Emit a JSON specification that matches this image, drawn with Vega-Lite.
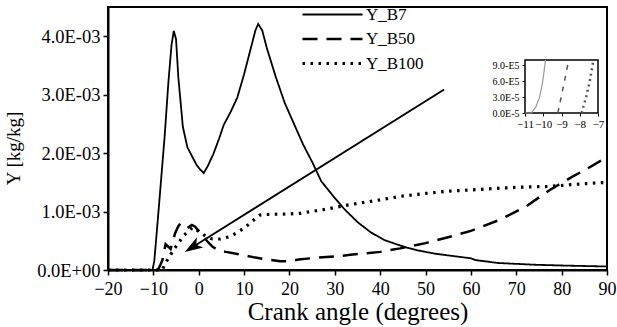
{
  "$schema": "https://vega.github.io/schema/vega-lite/v6.json",
  "width": 499,
  "height": 263,
  "autosize": "none",
  "padding": {"left": 108, "top": 7, "right": 10, "bottom": 57},
  "background": "white",
  "config": {
    "font": "Liberation Serif, Times New Roman, serif",
    "view": {"stroke": "black", "strokeWidth": 2},
    "axis": {"grid": false, "domainColor": "black", "domainWidth": 2, "tickColor": "black", "labelColor": "black", "titleColor": "black", "labelFont": "Liberation Serif, Times New Roman, serif", "titleFont": "Liberation Serif, Times New Roman, serif", "titleFontWeight": "normal"},
    "legend": {"labelFont": "Liberation Serif, Times New Roman, serif"}
  },
  "datasets": {
    "main": [
      {"angle": -20, "Y": 0, "s": "Y_B7"}, {"angle": -15, "Y": 0, "s": "Y_B7"}, {"angle": -11, "Y": 0, "s": "Y_B7"}, {"angle": -10.2, "Y": 0.0, "s": "Y_B7"},
      {"angle": -9.8, "Y": 0.00015, "s": "Y_B7"}, {"angle": -9.3, "Y": 0.0006, "s": "Y_B7"}, {"angle": -8.5, "Y": 0.00135, "s": "Y_B7"}, {"angle": -7.5, "Y": 0.0023, "s": "Y_B7"},
      {"angle": -6.7, "Y": 0.0032, "s": "Y_B7"}, {"angle": -6.0, "Y": 0.00385, "s": "Y_B7"}, {"angle": -5.5, "Y": 0.00409, "s": "Y_B7"}, {"angle": -5.0, "Y": 0.00395, "s": "Y_B7"},
      {"angle": -4.5, "Y": 0.0033, "s": "Y_B7"}, {"angle": -3.5, "Y": 0.00245, "s": "Y_B7"}, {"angle": -2.5, "Y": 0.0021, "s": "Y_B7"}, {"angle": -1.5, "Y": 0.00195, "s": "Y_B7"},
      {"angle": -0.5, "Y": 0.0018, "s": "Y_B7"}, {"angle": 0.3, "Y": 0.00172, "s": "Y_B7"}, {"angle": 1.1, "Y": 0.00166, "s": "Y_B7"}, {"angle": 2, "Y": 0.00178, "s": "Y_B7"},
      {"angle": 3.2, "Y": 0.00198, "s": "Y_B7"}, {"angle": 4.5, "Y": 0.00225, "s": "Y_B7"}, {"angle": 5.5, "Y": 0.00248, "s": "Y_B7"}, {"angle": 7, "Y": 0.0027, "s": "Y_B7"},
      {"angle": 8.5, "Y": 0.00295, "s": "Y_B7"}, {"angle": 10, "Y": 0.00335, "s": "Y_B7"}, {"angle": 11.5, "Y": 0.0038, "s": "Y_B7"}, {"angle": 12.5, "Y": 0.0041, "s": "Y_B7"},
      {"angle": 13.1, "Y": 0.00421, "s": "Y_B7"}, {"angle": 14, "Y": 0.0041, "s": "Y_B7"}, {"angle": 15, "Y": 0.0038, "s": "Y_B7"}, {"angle": 17, "Y": 0.0033, "s": "Y_B7"},
      {"angle": 19, "Y": 0.00285, "s": "Y_B7"}, {"angle": 21, "Y": 0.0025, "s": "Y_B7"}, {"angle": 23, "Y": 0.00215, "s": "Y_B7"}, {"angle": 25, "Y": 0.00185, "s": "Y_B7"},
      {"angle": 27, "Y": 0.00152, "s": "Y_B7"}, {"angle": 29.7, "Y": 0.00126, "s": "Y_B7"}, {"angle": 32, "Y": 0.00105, "s": "Y_B7"}, {"angle": 35, "Y": 0.00082, "s": "Y_B7"},
      {"angle": 38, "Y": 0.00064, "s": "Y_B7"}, {"angle": 41, "Y": 0.00051, "s": "Y_B7"}, {"angle": 44, "Y": 0.00043, "s": "Y_B7"}, {"angle": 46, "Y": 0.00038, "s": "Y_B7"},
      {"angle": 48, "Y": 0.00034, "s": "Y_B7"}, {"angle": 52, "Y": 0.00028, "s": "Y_B7"}, {"angle": 56, "Y": 0.00024, "s": "Y_B7"}, {"angle": 60, "Y": 0.0002, "s": "Y_B7"},
      {"angle": 61, "Y": 0.00017, "s": "Y_B7"}, {"angle": 66, "Y": 0.00012, "s": "Y_B7"}, {"angle": 74, "Y": 0.00009, "s": "Y_B7"}, {"angle": 81, "Y": 0.000075, "s": "Y_B7"},
      {"angle": 90, "Y": 0.00006, "s": "Y_B7"},

      {"angle": -20, "Y": 0, "s": "Y_B50"}, {"angle": -9, "Y": 0, "s": "Y_B50"}, {"angle": -8.5, "Y": 0.00008, "s": "Y_B50"}, {"angle": -8, "Y": 0.00017, "s": "Y_B50"},
      {"angle": -7.3, "Y": 0.00044, "s": "Y_B50"}, {"angle": -6.2, "Y": 0.00036, "s": "Y_B50"}, {"angle": -5.2, "Y": 0.00063, "s": "Y_B50"}, {"angle": -4.5, "Y": 0.00075, "s": "Y_B50"},
      {"angle": -4, "Y": 0.0008, "s": "Y_B50"}, {"angle": -3.3, "Y": 0.00076, "s": "Y_B50"}, {"angle": -2.5, "Y": 0.00072, "s": "Y_B50"}, {"angle": -1.5, "Y": 0.00077, "s": "Y_B50"},
      {"angle": -0.8, "Y": 0.00074, "s": "Y_B50"}, {"angle": 0, "Y": 0.00067, "s": "Y_B50"}, {"angle": 1, "Y": 0.00058, "s": "Y_B50"}, {"angle": 2, "Y": 0.00048, "s": "Y_B50"},
      {"angle": 3, "Y": 0.0004, "s": "Y_B50"}, {"angle": 4.3, "Y": 0.00034, "s": "Y_B50"}, {"angle": 6, "Y": 0.00031, "s": "Y_B50"}, {"angle": 9.5, "Y": 0.00026, "s": "Y_B50"},
      {"angle": 12, "Y": 0.00022, "s": "Y_B50"}, {"angle": 15, "Y": 0.00018, "s": "Y_B50"}, {"angle": 18, "Y": 0.00015, "s": "Y_B50"}, {"angle": 20, "Y": 0.00015, "s": "Y_B50"},
      {"angle": 22, "Y": 0.00018, "s": "Y_B50"}, {"angle": 26, "Y": 0.00021, "s": "Y_B50"}, {"angle": 30, "Y": 0.00023, "s": "Y_B50"}, {"angle": 33.4, "Y": 0.00026, "s": "Y_B50"},
      {"angle": 40, "Y": 0.00031, "s": "Y_B50"}, {"angle": 44.4, "Y": 0.00037, "s": "Y_B50"}, {"angle": 50, "Y": 0.00046, "s": "Y_B50"}, {"angle": 55.4, "Y": 0.00057, "s": "Y_B50"},
      {"angle": 60, "Y": 0.00067, "s": "Y_B50"}, {"angle": 66.4, "Y": 0.00086, "s": "Y_B50"}, {"angle": 72, "Y": 0.00108, "s": "Y_B50"}, {"angle": 77.4, "Y": 0.00137, "s": "Y_B50"},
      {"angle": 82, "Y": 0.00158, "s": "Y_B50"}, {"angle": 86, "Y": 0.00175, "s": "Y_B50"}, {"angle": 90, "Y": 0.00193, "s": "Y_B50"},

      {"angle": -20, "Y": 0, "s": "Y_B100"}, {"angle": -8, "Y": 0, "s": "Y_B100"}, {"angle": -7.5, "Y": 0.0001, "s": "Y_B100"}, {"angle": -6.7, "Y": 0.0002, "s": "Y_B100"},
      {"angle": -5.5, "Y": 0.00035, "s": "Y_B100"}, {"angle": -4.5, "Y": 0.00046, "s": "Y_B100"}, {"angle": -3.2, "Y": 0.0006, "s": "Y_B100"}, {"angle": -1.3, "Y": 0.00073, "s": "Y_B100"},
      {"angle": 0, "Y": 0.00066, "s": "Y_B100"}, {"angle": 1.5, "Y": 0.00058, "s": "Y_B100"}, {"angle": 3, "Y": 0.00053, "s": "Y_B100"}, {"angle": 4.7, "Y": 0.00053, "s": "Y_B100"},
      {"angle": 6.8, "Y": 0.00057, "s": "Y_B100"}, {"angle": 8.5, "Y": 0.00064, "s": "Y_B100"}, {"angle": 10.4, "Y": 0.00074, "s": "Y_B100"}, {"angle": 12.2, "Y": 0.00086, "s": "Y_B100"},
      {"angle": 13.5, "Y": 0.00094, "s": "Y_B100"}, {"angle": 15, "Y": 0.00095, "s": "Y_B100"}, {"angle": 20, "Y": 0.00096, "s": "Y_B100"}, {"angle": 22.3, "Y": 0.00097, "s": "Y_B100"},
      {"angle": 28, "Y": 0.00104, "s": "Y_B100"}, {"angle": 33.4, "Y": 0.00112, "s": "Y_B100"}, {"angle": 40, "Y": 0.0012, "s": "Y_B100"}, {"angle": 44.4, "Y": 0.00126, "s": "Y_B100"},
      {"angle": 50, "Y": 0.00131, "s": "Y_B100"}, {"angle": 55.4, "Y": 0.00135, "s": "Y_B100"}, {"angle": 60, "Y": 0.00137, "s": "Y_B100"}, {"angle": 66.4, "Y": 0.0014, "s": "Y_B100"},
      {"angle": 72, "Y": 0.00142, "s": "Y_B100"}, {"angle": 77.4, "Y": 0.00143, "s": "Y_B100"}, {"angle": 82, "Y": 0.00146, "s": "Y_B100"}, {"angle": 87.7, "Y": 0.00149, "s": "Y_B100"},
      {"angle": 90, "Y": 0.0015, "s": "Y_B100"}
    ],
    "arrow": [
      {"angle": 54.1, "Y": 0.00309}, {"angle": -2.2, "Y": 0.00035}
    ],
    "arrowhead": [
      {"angle": -1.2, "Y": 0.0004}
    ],
    "insetbox": [
      {"x0": -11, "x1": -7, "y0": 0, "y1": 0.0001}
    ],
    "inset": [
      {"angle": -11, "Y": 0, "s": "Y_B7"}, {"angle": -10.65, "Y": 0, "s": "Y_B7"}, {"angle": -10.4, "Y": 0.000012, "s": "Y_B7"}, {"angle": -10.2, "Y": 0.00003, "s": "Y_B7"},
      {"angle": -10.05, "Y": 0.000055, "s": "Y_B7"}, {"angle": -9.95, "Y": 0.00008, "s": "Y_B7"}, {"angle": -9.88, "Y": 0.0001, "s": "Y_B7"},
      {"angle": -9.2, "Y": 0, "s": "Y_B50"}, {"angle": -8.6, "Y": 0.0001, "s": "Y_B50"},
      {"angle": -7.9, "Y": 0, "s": "Y_B100"}, {"angle": -7.65, "Y": 0.00003, "s": "Y_B100"}, {"angle": -7.45, "Y": 0.00006, "s": "Y_B100"}, {"angle": -7.25, "Y": 0.0001, "s": "Y_B100"}
    ]
  },
  "layer": [
    {
      "layer": [
        {
          "data": {"name": "main"},
          "mark": {"type": "line", "color": "black"},
          "encoding": {
            "x": {"field": "angle", "type": "quantitative",
              "scale": {"domain": [-20, 90], "nice": false, "zero": false},
              "axis": {"values": [-20, -15, -10, -5, 0, 5, 10, 15, 20, 25, 30, 35, 40, 45, 50, 55, 60, 65, 70, 75, 80, 85, 90],
                "labelExpr": "datum.value % 10 == 0 ? datum.label : ''",
                "title": "Crank angle  (degrees)", "titleFontSize": 25, "titlePadding": 1,
                "labelFontSize": 18, "tickSize": 5, "tickWidth": 1.5, "labelPadding": 5, "labelFlush": false, "labelOverlap": false}},
            "y": {"field": "Y", "type": "quantitative",
              "scale": {"domain": [0, 0.0045], "nice": false},
              "axis": {"values": [0, 0.00025, 0.0005, 0.00075, 0.001, 0.00125, 0.0015, 0.00175, 0.002, 0.00225, 0.0025, 0.00275, 0.003, 0.00325, 0.0035, 0.00375, 0.004, 0.00425],
                "labelExpr": "datum.value < 1e-9 ? '0.0E+00' : (abs(datum.value*1000 - round(datum.value*1000)) < 1e-6 ? format(datum.value*1000, '.1f') + 'E-03' : '')",
                "title": "Y [kg/kg]", "titleFontSize": 19, "titleX": -85, "titleY": 141,
                "labelFontSize": 18.5, "tickSize": 5, "tickWidth": 1.5, "labelPadding": 3, "labelFlush": false, "labelOverlap": false}},
            "strokeDash": {"field": "s", "type": "nominal",
              "scale": {"domain": ["Y_B7", "Y_B50", "Y_B100"], "range": [[1, 0], [15, 9], [2.5, 5.5]]},
              "legend": {"title": null, "orient": "none", "legendX": 215, "legendY": -1, "symbolType": "M-4,0H4", "symbolSize": 225, "symbolStrokeColor": "black", "symbolStrokeWidth": 3, "symbolFillColor": "transparent", "labelFontSize": 17, "labelColor": "black", "labelOffset": 24, "rowPadding": 7}},
            "strokeWidth": {"field": "s", "type": "ordinal",
              "scale": {"domain": ["Y_B7", "Y_B50", "Y_B100"], "range": [1.8, 3.2, 3.5]}, "legend": null}
          }
        },
        {
          "data": {"name": "arrow"},
          "mark": {"type": "line", "color": "black", "strokeWidth": 1.8},
          "encoding": {"x": {"field": "angle", "type": "quantitative"}, "y": {"field": "Y", "type": "quantitative"}}
        },
        {
          "data": {"name": "arrowhead"},
          "mark": {"type": "point", "shape": "M0,-1L0.6,0.8L0,0.35L-0.6,0.8Z", "filled": true, "color": "black", "opacity": 1, "size": 400, "angle": 238},
          "encoding": {"x": {"field": "angle", "type": "quantitative"}, "y": {"field": "Y", "type": "quantitative"}}
        }
      ]
    },
    {
      "layer": [
        {
          "data": {"name": "insetbox"},
          "mark": {"type": "rect", "fill": "white", "stroke": "black", "strokeWidth": 1.5},
          "encoding": {
            "x": {"field": "x0", "type": "quantitative",
              "scale": {"domain": [-11, -7], "range": [417, 490], "nice": false, "zero": false},
              "axis": {"orient": "bottom", "offset": -157, "values": [-11, -10, -9, -8, -7], "format": "d", "title": null, "labelFontSize": 11, "tickSize": 3, "labelPadding": 2, "domain": false, "labelFlush": false, "labelOverlap": false}},
            "x2": {"field": "x1"},
            "y": {"field": "y0", "type": "quantitative",
              "scale": {"domain": [0, 0.0001], "range": [106, 53], "nice": false, "zero": false},
              "axis": {"orient": "left", "offset": -417, "values": [0, 0.00003, 0.00006, 0.00009], "title": null, "labelFontSize": 10, "tickSize": 3, "labelPadding": 3, "domain": false, "labelFlush": false, "labelOverlap": false,
                "labelExpr": "datum.value > 0.00008 ? '9.0-E5' : datum.value > 0.00005 ? '6.0-E5' : datum.value > 0.00002 ? '3.0E-5' : '0.0E-5'"}},
            "y2": {"field": "y1"}
          }
        },
        {
          "data": {"name": "inset"},
          "transform": [{"filter": "datum.s == 'Y_B7'"}],
          "mark": {"type": "line", "color": "#999999", "strokeWidth": 1.2},
          "encoding": {"x": {"field": "angle", "type": "quantitative"}, "y": {"field": "Y", "type": "quantitative"}}
        },
        {
          "data": {"name": "inset"},
          "transform": [{"filter": "datum.s == 'Y_B50'"}],
          "mark": {"type": "line", "color": "#555555", "strokeWidth": 1.5, "strokeDash": [5, 6]},
          "encoding": {"x": {"field": "angle", "type": "quantitative"}, "y": {"field": "Y", "type": "quantitative"}}
        },
        {
          "data": {"name": "inset"},
          "transform": [{"filter": "datum.s == 'Y_B100'"}],
          "mark": {"type": "line", "color": "#555555", "strokeWidth": 2.5, "strokeDash": [2, 3.5]},
          "encoding": {"x": {"field": "angle", "type": "quantitative"}, "y": {"field": "Y", "type": "quantitative"}}
        }
      ]
    }
  ],
  "resolve": {"scale": {"x": "independent", "y": "independent"}}
}
